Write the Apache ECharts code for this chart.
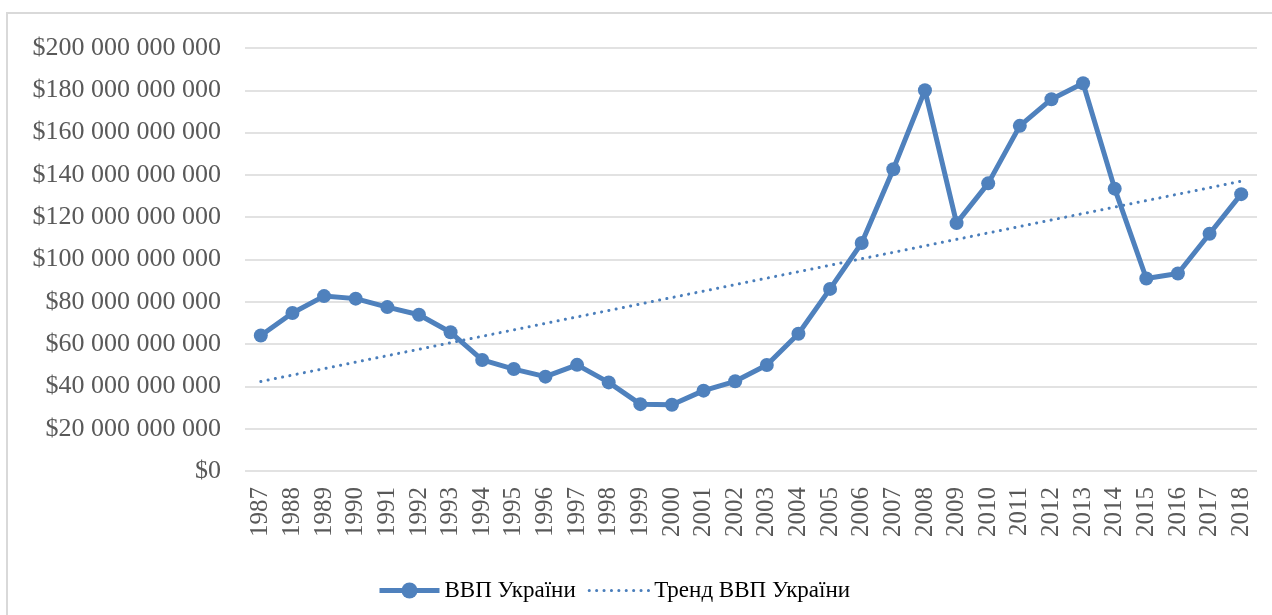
<!DOCTYPE html>
<html>
<head>
<meta charset="utf-8">
<script src="https://cdn.jsdelivr.net/npm/echarts@6/dist/echarts.min.js"></script>
<style>
  html, body { margin: 0; padding: 0; background: #fff; }
  #frame { position: absolute; left: 6px; top: 12px; width: 1280px; height: 620px;
           border-top: 2px solid #d9d9d9; border-left: 2px solid #d9d9d9; }
  #chart { position: absolute; left: 0; top: 0; width: 1272px; height: 615px; }
</style>
</head>
<body>
<div id="frame"></div>
<div id="chart"></div>
<script>
var years = ['1987','1988','1989','1990','1991','1992','1993','1994','1995','1996',
  '1997','1998','1999','2000','2001','2002','2003','2004','2005','2006','2007','2008',
  '2009','2010','2011','2012','2013','2014','2015','2016','2017','2018'];
// ВВП, млрд $
var gdp = [64.1, 74.7, 82.7, 81.5, 77.5, 73.9, 65.6, 52.5, 48.2, 44.6,
  50.2, 41.9, 31.6, 31.3, 38.0, 42.4, 50.1, 64.9, 86.1, 107.8, 142.7, 180.0,
  117.2, 136.0, 163.2, 175.8, 183.3, 133.5, 91.0, 93.4, 112.2, 130.9];
// trend endpoints
var trendYears = ['1987', '2018'];
var trendValues = [42.3, 137.0];

var BLN = 1e9;

function money(v) {
  var s = String(Math.round(v));
  return '$' + s.replace(/\B(?=(\d{3})+(?!\d))/g, ' ');
}

var chart = echarts.init(document.getElementById('chart'));
var font = '"Liberation Serif", "Times New Roman", serif';

chart.setOption({
  animation: false,
  textStyle: { fontFamily: font },
  grid: { left: 245, right: 15, top: 48, bottom: 144 },
  legend: {
    bottom: 8,
    left: 372,
    itemWidth: 60,
    itemHeight: 20,
    itemGap: 12,
    textStyle: { fontFamily: font, fontSize: 23, color: '#000' },
    data: [
      { name: 'ВВП України', lineStyle: { width: 5 } },
      { name: 'Тренд ВВП України', itemStyle: { opacity: 0 }, lineStyle: { width: 3 } }
    ]
  },
  xAxis: {
    type: 'category',
    data: years,
    boundaryGap: true,
    axisLine: { show: false },
    axisTick: { show: false },
    axisLabel: { rotate: 90, interval: 0, fontSize: 25, color: '#595959', fontFamily: font, margin: 16 }
  },
  yAxis: {
    type: 'value',
    min: 0,
    max: 200 * BLN,
    interval: 20 * BLN,
    axisLine: { show: false },
    axisTick: { show: false },
    splitLine: { lineStyle: { color: '#d9d9d9', width: 1.5 } },
    axisLabel: { fontSize: 26, color: '#595959', fontFamily: font, margin: 24, formatter: money }
  },
  series: [
    {
      name: 'ВВП України',
      type: 'line',
      data: gdp.map(function(v) { return v * BLN; }),
      symbol: 'circle',
      symbolSize: 14,
      itemStyle: { color: '#4f81bd' },
      lineStyle: { color: '#4f81bd', width: 5 },
      z: 3
    },
    {
      name: 'Тренд ВВП України',
      type: 'line',
      data: trendYears.map(function(y, i) { return [y, trendValues[i] * BLN]; }),
      symbol: 'none',
      itemStyle: { color: '#4a7ebb' },
      lineStyle: { color: '#4a7ebb', width: 3, type: [0.1, 7.3], cap: 'round' },
      z: 2
    }
  ]
});
</script>
</body>
</html>
